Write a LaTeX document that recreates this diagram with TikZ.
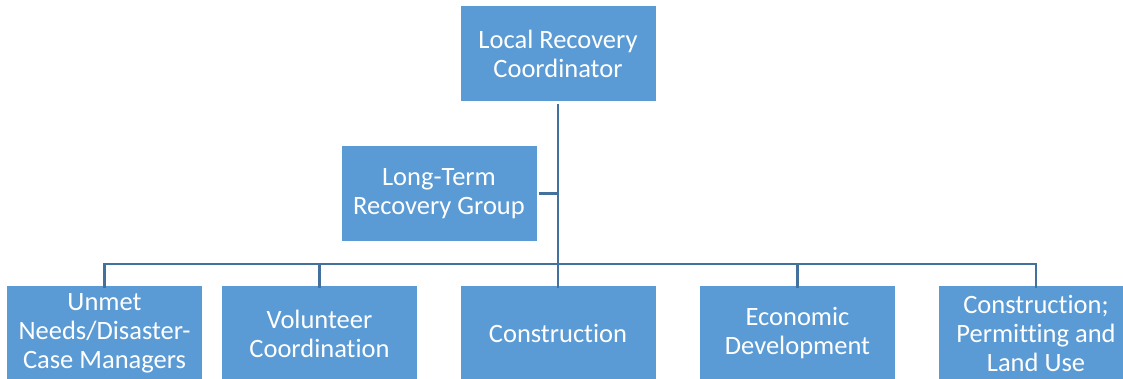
\documentclass[tikz,border=0pt]{standalone}
\usepackage{fontspec}
\setmainfont{Carlito}[Ligatures=NoCommon]
\definecolor{boxblue}{HTML}{5B9BD5}
\definecolor{linkblue}{HTML}{41719C}
\begin{document}
\begin{tikzpicture}[x=1pt,y=-1pt,
  orgbox/.style={fill=boxblue,draw=none,text=white,minimum width=195pt,minimum height=95pt,inner sep=0pt,align=center,font=\fontsize{26.5}{29}\selectfont},
  link/.style={draw=linkblue,line width=2.8pt}]
\useasboundingbox (0,0) rectangle (1123,379);
\clip (0,0) rectangle (1123,379);
\node[orgbox] (lrc) at (558,53.5) {Local Recovery\\Coordinator};
\node[orgbox] (ltrg) at (439,193.5) {Long-Term\\Recovery Group};
\node[orgbox] (b1) at (104.5,333.5) {Unmet\\Needs/Disaster-\\Case Managers};
\node[orgbox] (b2) at (319.5,333.5) {Volunteer\\Coordination};
\node[orgbox] (b3) at (558,333.5) {Construction};
\node[orgbox] (b4) at (797.5,333.5) {Economic\\Development};
\node[orgbox] (b5) at (1036,333.5) {Construction;\\Permitting and\\Land Use};
\coordinate (bus) at (558,264);
\coordinate (ltj) at (558,193.5);
\draw[link] ([yshift=-3pt]lrc.south) -- (bus);
\draw[link] ([xshift=2pt]ltrg.east) -- (ltj);
\draw[link] ([yshift=-2pt]b1.north) |- (bus);
\draw[link] ([yshift=-2pt]b2.north) |- (bus);
\draw[link] ([yshift=-2pt]b3.north) -- (bus);
\draw[link] ([yshift=-2pt]b4.north) |- (bus);
\draw[link] ([yshift=-2pt]b5.north) |- (bus);
\end{tikzpicture}
\end{document}
